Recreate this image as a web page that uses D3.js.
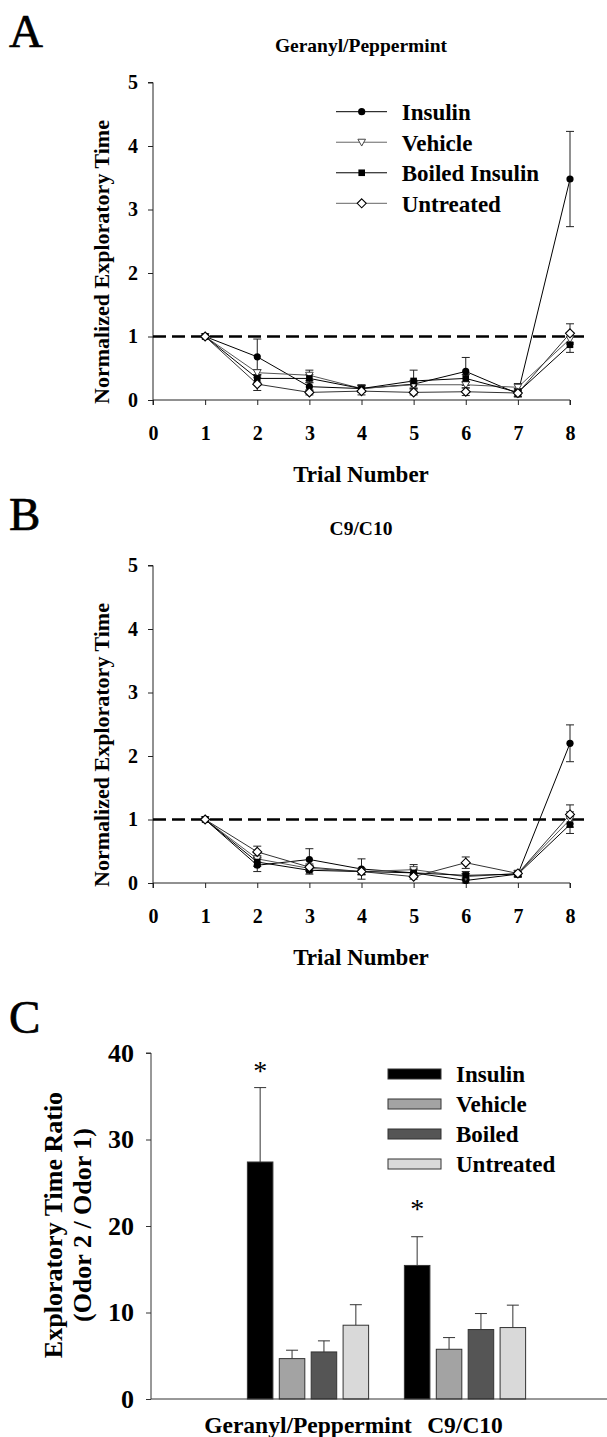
<!DOCTYPE html>
<html><head><meta charset="utf-8">
<script src="https://cdn.jsdelivr.net/npm/d3@7"></script>
<style>
html,body{margin:0;padding:0;background:#fff;}
svg{display:block;}
text{font-family:"Liberation Serif","Times New Roman",serif;font-weight:bold;fill:#000;}
</style></head>
<body>
<svg id="chart" width="607" height="1437"></svg>
<script>
// ---------- DATA ----------
const trials = [1,2,3,4,5,6,7,8];
const xTicks = [0,1,2,3,4,5,6,7,8];
const yTicksLine = [0,1,2,3,4,5];
const lineSeries = ["Insulin","Vehicle","Boiled Insulin","Untreated"];

// Panel A: Geranyl/Peppermint
const aInsulin   = [1, 0.68, 0.21, 0.18, 0.25, 0.45, 0.10, 3.48];
const aVehicle   = [1, 0.43, 0.39, 0.18, 0.24, 0.24, 0.20, 0.96];
const aBoiled    = [1, 0.34, 0.34, 0.18, 0.30, 0.34, 0.12, 0.87];
const aUntreated = [1, 0.25, 0.12, 0.14, 0.12, 0.13, 0.11, 1.05];
const aInsulinErr   = [0, 0.28, 0.06, 0.05, 0.06, 0.22, 0.05, 0.75];
const aVehicleErr   = [0, 0.05, 0.08, 0.05, 0.06, 0.05, 0.06, 0.08];
const aBoiledErr    = [0, 0.06, 0.06, 0.06, 0.17, 0.06, 0.06, 0.12];
const aUntreatedErr = [0, 0.10, 0.04, 0.06, 0.04, 0.06, 0.06, 0.15];

// Panel B: C9/C10
const bInsulin   = [1, 0.28, 0.37, 0.22, 0.16, 0.04, 0.14, 2.20];
const bVehicle   = [1, 0.38, 0.23, 0.18, 0.21, 0.10, 0.15, 1.00];
const bBoiled    = [1, 0.33, 0.20, 0.18, 0.16, 0.12, 0.14, 0.92];
const bUntreated = [1, 0.49, 0.25, 0.18, 0.10, 0.32, 0.15, 1.08];
const bInsulinErr   = [0, 0.10, 0.17, 0.16, 0.07, 0.04, 0.04, 0.29];
const bVehicleErr   = [0, 0.05, 0.05, 0.05, 0.08, 0.05, 0.05, 0.12];
const bBoiledErr    = [0, 0.07, 0.06, 0.05, 0.05, 0.06, 0.05, 0.14];
const bUntreatedErr = [0, 0.09, 0.05, 0.04, 0.04, 0.09, 0.04, 0.15];

// Panel C: ratio bars
const odorPairs = ["Geranyl/Peppermint","C9/C10"];
const barSeries = ["Insulin","Vehicle","Boiled","Untreated"];
const cGeranyl    = [27.4, 4.67, 5.44, 8.53];
const cGeranylErr = [8.6, 0.97, 1.28, 2.37];
const cC9         = [15.44, 5.75, 8.03, 8.26];
const cC9Err      = [3.32, 1.35, 1.85, 2.59];
const yTicksBar = [0,10,20,30,40];
const asteriskLevel = [38.3, 22.3];   // level of the "*" mark above each Insulin bar

// ---------- DRAW ----------
const svg = d3.select("#chart");
const lineStyle = {
  "Insulin":        {stroke:"#000", sym:"circle"},
  "Vehicle":        {stroke:"#555", sym:"triangleDown"},
  "Boiled Insulin": {stroke:"#000", sym:"square"},
  "Untreated":      {stroke:"#333", sym:"diamond"}
};

function drawMarker(g, sym, x, y) {
  if (sym === "circle") {
    g.append("circle").attr("cx",x).attr("cy",y).attr("r",3.6).attr("fill","#000");
  } else if (sym === "square") {
    g.append("rect").attr("x",x-3.3).attr("y",y-3.3).attr("width",6.6).attr("height",6.6).attr("fill","#000");
  } else if (sym === "triangleDown") {
    g.append("path").attr("d",`M${x-3.8},${y-3} L${x+3.8},${y-3} L${x},${y+3.8} Z`)
      .attr("fill","#fff").attr("stroke","#444").attr("stroke-width",1);
  } else if (sym === "diamond") {
    g.append("path").attr("d",`M${x},${y-4.5} L${x+4.5},${y} L${x},${y+4.5} L${x-4.5},${y} Z`)
      .attr("fill","#fff").attr("stroke","#000").attr("stroke-width",1.1);
  }
}

function panelLetter(t, y) {
  svg.append("text").attr("x",9).attr("y",y).attr("font-size",47)
    .style("font-weight","normal").attr("stroke","#000").attr("stroke-width",0.7).text(t);
}

function linePanel(cfg) {
  const x = d3.scaleLinear().domain([0,8]).range([153,570]);
  const y = d3.scaleLinear().domain([0,5]).range([cfg.y0, cfg.y0-317.5]);
  const g = svg.append("g");

  panelLetter(cfg.letter, cfg.letterY);
  svg.append("text").attr("x",361).attr("y",cfg.titleY).attr("text-anchor","middle")
    .attr("font-size",19.5).text(cfg.title);

  // axes
  const ya = g.append("g").attr("transform",`translate(${x(0)},0)`)
    .call(d3.axisLeft(y).tickValues(yTicksLine).tickFormat(d3.format("d")).tickSize(5).tickPadding(10));
  const xa = g.append("g").attr("transform",`translate(0,${y(0)})`)
    .call(d3.axisBottom(x).tickValues(xTicks).tickFormat(d3.format("d")).tickSize(5).tickPadding(21));
  [ya,xa].forEach(a=>{
    a.select(".domain").attr("stroke","#222").attr("stroke-width",1);
    a.selectAll(".tick line").attr("stroke","#222");
    a.selectAll("text").attr("font-size",20).attr("font-family","Liberation Serif").attr("font-weight","bold").attr("fill","#000");
  });
  ya.select(".domain").attr("d",`M-5,${y(5)}H0V${y(0)}`);
  xa.select(".domain").attr("d",`M${x(0)},5V0H${x(8)}V5`);

  // axis titles
  svg.append("text").attr("transform",`translate(${109},${cfg.y0-138}) rotate(-90)`)
    .attr("text-anchor","middle").attr("font-size",22).text("Normalized Exploratory Time");
  svg.append("text").attr("x",361).attr("y",cfg.y0+82).attr("text-anchor","middle")
    .attr("font-size",23).text("Trial Number");

  // reference dashed line at 1
  g.append("line").attr("x1",x(0)).attr("x2",587).attr("y1",y(1)).attr("y2",y(1))
    .attr("stroke","#000").attr("stroke-width",2.6).attr("stroke-dasharray","13,6");

  const line = d3.line().x((d,i)=>x(trials[i])).y(d=>y(d));
  cfg.series.forEach((s)=>{
    g.append("path").datum(s.values).attr("d",line).attr("fill","none")
      .attr("stroke",lineStyle[s.name].stroke).attr("stroke-width",1);
  });
  cfg.series.forEach((s)=>{
    s.values.forEach((v,i)=>{
      const e = s.err[i]; if (!e) return;
      const cx = x(trials[i]);
      g.append("line").attr("x1",cx).attr("x2",cx).attr("y1",y(v-e)).attr("y2",y(v+e)).attr("stroke","#222");
      [v-e,v+e].forEach(t=>g.append("line").attr("x1",cx-4).attr("x2",cx+4).attr("y1",y(t)).attr("y2",y(t)).attr("stroke","#222"));
    });
  });
  cfg.series.forEach((s)=>{
    s.values.forEach((v,i)=>drawMarker(g, lineStyle[s.name].sym, x(trials[i]), y(v)));
  });

  // legend
  if (cfg.legend) {
    const rows = d3.scaleLinear().domain([0,3]).range([111.7, 203.3]);
    lineSeries.forEach((n,i)=>{
      const ry = rows(i);
      g.append("line").attr("x1",336).attr("x2",387).attr("y1",ry).attr("y2",ry)
        .attr("stroke", lineStyle[n].stroke === "#000" ? "#000" : "#666").attr("stroke-width",1);
      drawMarker(g, lineStyle[n].sym, 361.7, ry);
      svg.append("text").attr("x",401.7).attr("y",ry+8.5).attr("font-size",23).text(n);
    });
  }
}

linePanel({letter:"A", letterY:47, title:"Geranyl/Peppermint", titleY:52, y0:400, legend:true,
  series:[
    {name:"Insulin", values:aInsulin, err:aInsulinErr},
    {name:"Vehicle", values:aVehicle, err:aVehicleErr},
    {name:"Boiled Insulin", values:aBoiled, err:aBoiledErr},
    {name:"Untreated", values:aUntreated, err:aUntreatedErr}
  ]});
linePanel({letter:"B", letterY:530, title:"C9/C10", titleY:535, y0:883, legend:false,
  series:[
    {name:"Insulin", values:bInsulin, err:bInsulinErr},
    {name:"Vehicle", values:bVehicle, err:bVehicleErr},
    {name:"Boiled Insulin", values:bBoiled, err:bBoiledErr},
    {name:"Untreated", values:bUntreated, err:bUntreatedErr}
  ]});

// ---------- Panel C ----------
(function(){
  const barColor = {"Insulin":"#000","Vehicle":"#a3a3a3","Boiled":"#555","Untreated":"#d9d9d9"};
  const y = d3.scaleLinear().domain([0,40]).range([1399,1053]);
  const xg = d3.scaleLinear().domain([0,3]).range([151,622]);
  const xb = d3.scaleBand().domain(barSeries).range([-63.8,63.8]).paddingInner(0.2).paddingOuter(0.1);
  const g = svg.append("g");

  panelLetter("C", 1033);

  const groups = [
    {name:odorPairs[0], vals:cGeranyl, errs:cGeranylErr},
    {name:odorPairs[1], vals:cC9, errs:cC9Err}
  ];
  groups.forEach((gr,gi)=>{
    const cx0 = xg(gi+1);
    barSeries.forEach((s,i)=>{
      const bx = cx0 + xb(s);
      const v = gr.vals[i], e = gr.errs[i];
      const mid = bx + xb.bandwidth()/2;
      g.append("line").attr("x1",mid).attr("x2",mid).attr("y1",y(v)).attr("y2",y(v+e)).attr("stroke","#333");
      g.append("line").attr("x1",mid-6).attr("x2",mid+6).attr("y1",y(v+e)).attr("y2",y(v+e)).attr("stroke","#333");
      g.append("rect").attr("x",bx).attr("y",y(v)).attr("width",xb.bandwidth()).attr("height",y(0)-y(v))
        .attr("fill",barColor[s]).attr("stroke","#333").attr("stroke-width",1);
    });
    // significance asterisk over Insulin bar
    const midI = cx0 + xb("Insulin") + xb.bandwidth()/2;
    svg.append("text").attr("x",midI).attr("y",y(asteriskLevel[gi])+12)
      .attr("text-anchor","middle").attr("font-size",28).style("font-weight","normal").text("*");
    svg.append("text").attr("x",cx0).attr("y",1433).attr("text-anchor","middle").attr("font-size",23.5).text(gr.name);
  });

  const ya = g.append("g").attr("transform",`translate(${xg(0)},0)`)
    .call(d3.axisLeft(y).tickValues(yTicksBar).tickSize(5).tickPadding(12));
  ya.select(".domain").attr("d",`M-5,${y(40)}H0V${y(0)}`).attr("stroke","#333");
  ya.selectAll(".tick line").attr("stroke","#333");
  ya.selectAll("text").attr("font-size",26).attr("font-family","Liberation Serif").attr("font-weight","bold").attr("fill","#000");
  g.append("line").attr("x1",xg(0)).attr("x2",607).attr("y1",y(0)).attr("y2",y(0)).attr("stroke","#333");

  svg.append("text").attr("transform",`translate(62,1225) rotate(-90)`).attr("text-anchor","middle")
    .attr("font-size",26).text("Exploratory Time Ratio");
  svg.append("text").attr("transform",`translate(91,1225) rotate(-90)`).attr("text-anchor","middle")
    .attr("font-size",26).text("(Odor 2 / Odor 1)");

  // legend
  const rows = d3.scaleLinear().domain([0,3]).range([1074,1164]);
  barSeries.forEach((s,i)=>{
    const ry = rows(i);
    g.append("rect").attr("x",388).attr("y",ry-5).attr("width",53).attr("height",10)
      .attr("fill",barColor[s]).attr("stroke","#333");
    svg.append("text").attr("x",456).attr("y",ry+8).attr("font-size",23).text(s);
  });
})();
</script>
</body></html>
